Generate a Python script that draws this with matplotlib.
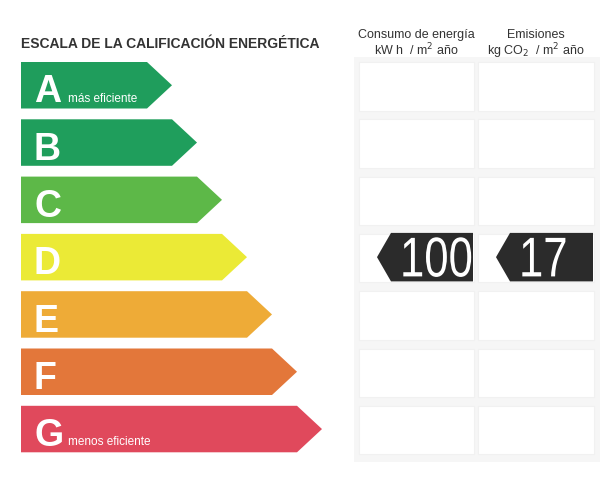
import matplotlib
matplotlib.use("Agg")
import matplotlib.pyplot as plt
from matplotlib.patches import Polygon, Rectangle, PathPatch
from matplotlib.textpath import TextPath
from matplotlib.font_manager import FontProperties
from matplotlib.transforms import Affine2D

plt.rcParams['font.family'] = ['Liberation Sans', 'DejaVu Sans']

# ---- data ----
categories = ["A", "B", "C", "D", "E", "F", "G"]
subtitles = ["más eficiente", "", "", "", "", "", "menos eficiente"]
colors = ["#1f9d5c", "#1f9e5c", "#5db848", "#ebea36", "#eeab37", "#e3773a", "#e0495c"]
rating = "D"
consumo = 100
emisiones = 17
title = "ESCALA DE LA CALIFICACIÓN ENERGÉTICA"
col1 = ["Consumo de energía", "kW h  / m$^2$ año"]
col2 = ["Emisiones", "kg CO$_2$  / m$^2$ año"]

# ---- layout ----
W, H = 616, 481
fig = plt.figure(figsize=(W / 100, H / 100), dpi=100)
ax = fig.add_axes([0, 0, 1, 1])
ax.set_xlim(0, W)
ax.set_ylim(H, 0)
ax.axis("off")

top0, step, bh = 63, 57.3, 46.5
left = 21
tip0, tip_step = 172, 25
point = 25

# grid backdrop and cells
cols = [(359, 115), (478, 116)]
ax.add_patch(Rectangle((354, top0 - 5), 246, len(categories) * step + 4,
                       facecolor="#f6f6f6", edgecolor="none"))
for i in range(len(categories)):
    y = top0 + i * step
    for cx, cw in cols:
        ax.add_patch(Rectangle((cx, y), cw, bh + 2, facecolor="white",
                               edgecolor="#f1f1f1", lw=0.8))

# arrows
for i, (cat, sub, col) in enumerate(zip(categories, subtitles, colors)):
    y = top0 + i * step
    tip = tip0 + i * tip_step
    pts = [(left, y), (tip - point, y), (tip, y + bh / 2), (tip - point, y + bh), (left, y + bh)]
    ax.add_patch(Polygon(pts, closed=True, facecolor=col, edgecolor="none"))
    ax.text(left + 13, y + bh - 7, cat, color="white", fontsize=27,
            fontweight="bold", ha="left", va="baseline")
    if sub:
        ax.text(left + 47, y + bh - 8, sub, color="white",
                fontsize=8.5, ha="left", va="baseline")

# value markers
fp = FontProperties(family="Liberation Sans")
ri = categories.index(rating)
my = top0 + ri * step - 1
mh = bh + 2
for (cx, cw), val in zip(cols, [consumo, emisiones]):
    x0 = cx + 32
    x1 = cx + cw - 1
    pts = [(x0 - 14, my + mh / 2), (x0, my), (x1, my), (x1, my + mh), (x0, my + mh)]
    ax.add_patch(Polygon(pts, closed=True, facecolor="#2b2b2b", edgecolor="none"))
    tp = TextPath((0, 0), str(val), size=56, prop=fp)
    tr = Affine2D().scale(0.78, -1.0).translate(x0 + 9, my + mh - 5) + ax.transData
    ax.add_patch(PathPatch(tp, transform=tr, facecolor="white", edgecolor="none"))

# headers
ax.text(left, 48, title, fontsize=10, fontweight="bold", color="#333333",
        ha="left", va="baseline")
for (cx, cw), lines in zip(cols, [col1, col2]):
    ax.text(cx + cw / 2, 38, lines[0], fontsize=9, color="#333333", ha="center", va="baseline")
    ax.text(cx + cw / 2, 55, lines[1], fontsize=9, color="#333333", ha="center", va="baseline")

fig.savefig("out.png", dpi=100)
